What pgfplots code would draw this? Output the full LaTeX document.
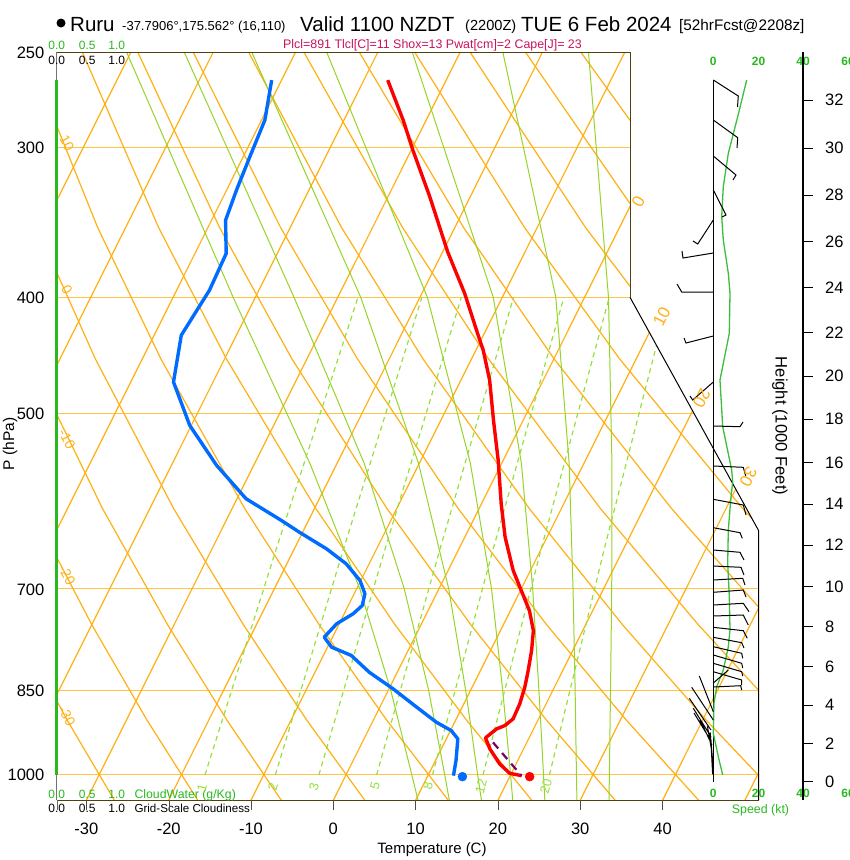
\documentclass[border=0pt]{standalone}
\usepackage{pgfplots}
\pgfplotsset{compat=1.18}
\usepackage{pgfplotstable}
\usepackage{fontspec}
\setmainfont{Liberation Sans}

\definecolor{isoc}{RGB}{255,176,20}
\definecolor{barc}{RGB}{255,196,70}
\definecolor{moistc}{RGB}{150,212,40}
\definecolor{mixc}{RGB}{150,224,60}
\definecolor{framec}{RGB}{80,64,16}
\definecolor{tred}{RGB}{255,0,0}
\definecolor{tdblue}{RGB}{0,108,255}
\definecolor{parcelc}{RGB}{120,0,110}
\definecolor{infoc}{RGB}{200,20,90}
\definecolor{grnc}{RGB}{40,185,30}
\definecolor{spdc}{RGB}{60,190,60}

\newcommand\fs[1]{\fontsize{#1}{#1}\selectfont}

% skew-T: plotted x = T + 31.64 ln(1050/p)
\pgfplotsset{table/skewT/.style={x expr=\thisrow{#1}+31.64*ln(1050/\thisrow{p}),y=p}}

% temperature profile (C, hPa)
\pgfplotstableread{
T p
-37.1 263.7
-32.8 284.7
-29.8 301.6
-24.9 329.9
-19.4 366.6
-14.8 397.1
-10.8 428.8
-9.1 442.8
-6.5 469.0
-3.6 506.5
-0.6 546.9
2.4 594.4
4.9 633.7
7.9 675.5
10.1 702.0
12.3 729.5
14.0 758.0
15.0 787.7
15.8 818.5
16.4 845.2
16.8 872.6
16.9 898.1
16.3 909.7
15.5 915.5
14.7 931.4
15.9 951.3
18.0 979.1
19.8 997.0
21.4 1001.4
}\tempT

% dew point profile
\pgfplotstableread{
T p
-51.2 263.7
-49.6 284.7
-49.2 305.5
-48.8 325.7
-48.3 345.0
-46.2 367.8
-46.0 394.6
-46.7 430.2
-44.8 470.6
-40.2 511.4
-34.5 552.2
-28.9 588.7
-23.3 613.7
-20.4 627.7
-16.1 648.0
-12.8 666.9
-10.1 688.6
-8.7 706.4
-8.3 722.5
-8.9 734.1
-10.3 748.3
-11.0 767.8
-9.5 782.7
-6.6 795.3
-3.4 821.2
0.5 847.8
4.5 878.3
7.8 904.0
10.1 918.5
11.4 933.2
12.5 973.0
13.1 1001.4
}\dewT

% dry adiabats, theta = -30 ... 120 C
\pgfplotstableread{
p dm30 dm20 dm10 d0 d10 d20 d30 d40 d50 d60 d70 d80 d90 d100 d110 d120
1050 -26.59 -16.45 -6.31 3.84 13.98 24.12 34.26 44.40 54.54 64.68 74.82 84.96 95.10 105.24 115.38 125.52
900 -37.21 -27.51 -17.80 -8.10 1.61 11.31 21.01 30.72 40.42 50.12 59.83 69.53 79.23 88.94 98.64 108.34
750 -49.18 -39.97 -30.76 -21.55 -12.34 -3.13 6.08 15.29 24.51 33.72 42.93 52.14 61.35 70.56 79.77 88.98
600 -63.02 -54.38 -45.73 -37.09 -28.45 -19.81 -11.17 -2.52 6.12 14.76 23.40 32.05 40.69 49.33 57.97 66.61
450 -79.60 -71.64 -63.68 -55.72 -47.76 -39.80 -31.84 -23.88 -15.92 -7.96 0.00 7.96 15.92 23.88 31.85 39.80
350 -93.01 -85.60 -78.19 -70.78 -63.37 -55.97 -48.56 -41.15 -33.74 -26.33 -18.92 -11.51 -4.10 3.31 10.71 18.12
250 -109.52 -102.79 -96.06 -89.33 -82.60 -75.88 -69.14 -62.41 -55.68 -48.96 -42.23 -35.50 -28.77 -22.04 -15.31 -8.58
}\dryad

% moist adiabats, theta-w = 8 ... 32 C
\pgfplotstableread{
p m8 m12 m16 m20 m24 m28 m32
1050 10.3 14.1 18.0 21.8 25.7 29.6 33.5
1000 8 12 16 20 24 28 32
850 0.3 4.9 9.4 13.9 18.3 22.7 27.0
700 -9.6 -4.2 1.2 6.4 11.4 16.3 21.0
550 -23.3 -16.7 -10.1 -3.8 2.4 8.2 13.4
400 -42.7 -35.3 -27.2 -19.1 -11.1 -3.5 2.9
250 -70.5 -63.5 -55.3 -46.2 -35.8 -24.8 -14.4
}\moistad

% saturation mixing ratio lines (g/kg)
\pgfplotstableread{
p w1 w2 w3 w5 w8 w12 w20
1000 -17.13 -8.58 -3.29 3.72 10.51 16.64 24.72
650 -22.15 -13.98 -8.93 -2.25 4.21 10.04 17.71
400 -27.54 -19.77 -14.98 -8.64 -2.52 2.99 10.23
}\mixr

\begin{document}
\begin{tikzpicture}
\path[use as bounding box] (0,0) rectangle (850pt,-860pt);

\begin{axis}[
  at={(56.7pt,-800.3pt)}, anchor=south west,
  scale only axis, width=701.8pt, height=748pt,
  xmin=-33.6, xmax=51.66, ymin=250, ymax=1050,
  ymode=log, y dir=reverse,
  hide axis, clip mode=individual,
]
% isobars
\pgfplotsinvokeforeach{300,400,500,700,850,1000}{
  \addplot[barc, line width=1pt] coordinates {(-33.6,#1) (51.66,#1)};
}
% isotherms
\pgfplotsinvokeforeach{-70,-60,...,50}{
  \addplot[isoc, line width=1.2pt] table[row sep=\\, skewT=T] {T p\\ #1 1050\\ #1 250\\};
}
% dry adiabats
\pgfplotsinvokeforeach{dm30,dm20,dm10,d0,d10,d20,d30,d40,d50,d60,d70,d80,d90,d100,d110,d120}{
  \addplot[isoc, line width=1.2pt] table[skewT=#1] {\dryad};
}
% moist adiabats
\pgfplotsinvokeforeach{m8,m12,m16,m20,m24,m28,m32}{
  \addplot[moistc, line width=1pt] table[skewT=#1] {\moistad};
}
% mixing ratio
\pgfplotsinvokeforeach{w1,w2,w3,w5,w8,w12,w20}{
  \addplot[mixc, line width=1.2pt, dash pattern=on 5pt off 4pt] table[skewT=#1] {\mixr};
}
% cut-out corner
\fill[white] (axis cs:36.05,240) -- (axis cs:53,240) -- (axis cs:53,625.6)
  -- (axis cs:51.66,625.6) -- (axis cs:36.05,400) -- cycle;
% frame
\draw[framec, line width=1pt] (axis cs:-33.6,250) -- (axis cs:36.05,250) -- (axis cs:36.05,400);
\draw[black, line width=1pt] (axis cs:36.05,400) -- (axis cs:51.66,625.6) -- (axis cs:51.66,1050);
\draw[framec, line width=1pt] (axis cs:-33.6,1050) -- (axis cs:51.66,1050);
\draw[black!55, line width=0.8pt] (axis cs:-33.6,250) -- (axis cs:-33.6,1050);
\draw[grnc, line width=3pt] (axis cs:-33.6,263.7) -- (axis cs:-33.6,1000);
% profiles
\addplot[tdblue, line width=3.4pt, line join=round] table[skewT=T] {\dewT};
\addplot[tred, line width=3.4pt, line join=round] table[skewT=T] {\tempT};
\addplot[parcelc, line width=2.2pt, dash pattern=on 8pt off 6pt] table[row sep=\\, skewT=T] {T p\\ 15.88 939.4\\ 21.36 1001.4\\};
\addplot[only marks, mark=*, mark size=4.5pt, tdblue] table[row sep=\\, skewT=T] {T p\\ 14.25 1003.3\\};
\addplot[only marks, mark=*, mark size=4.5pt, tred] table[row sep=\\, skewT=T] {T p\\ 22.42 1003.3\\};
\end{axis}

% wind panel: x = speed (kt), y = height above bottom of frame (px)
\begin{axis}[
  at={(668.1pt,-800.3pt)}, anchor=south west,
  scale only axis, width=180.8pt, height=748pt,
  xmin=-20, xmax=60, ymin=0, ymax=748,
  hide axis, clip=false,
]
\addplot[black, line width=0.9pt] coordinates {(0,18.6) (0,720.3)};
\addplot[spdc, line width=1.3pt] coordinates {
(14.78,720.3) (10.80,683.6) (6.64,647) (4.42,613.6) (3.72,583.6) (4.42,560.3)
(6.64,527) (7.39,507) (7.08,467) (2.96,420.3) (4.16,373.6) (8.14,330.3)
(8.58,318.6) (7.70,300.3) (6.64,270.3) (6.37,237) (7.08,203.6) (7.39,170.3)
(6.64,153.6) (4.42,130.3) (1.50,113.6) (0.31,97) (0,67) (2.21,43.6) (4.16,25.3)};
\addplot[black, line width=1pt, unbounded coords=jump] coordinates {
(0,720.3) (11.06,704.3) (10.71,693.3) (nan,nan)
(0,680.3) (10.80,662.6) (10.49,652.3) (nan,nan)
(0,644.3) (10.04,625.3) (8.72,620.3) (nan,nan)
(0,610.3) (5.62,585.3) (3.85,583.3) (nan,nan)
(0,580.3) (-6.90,556.3) (-8.98,559.3) (nan,nan)
(0,547.3) (-13.41,542.3) (-13.85,549.3) (nan,nan)
(0,508.3) (-13.98,508.3) (-16.06,516.3) (nan,nan)
(0,464.3) (-12.08,457.3) (-12.96,462.3) (nan,nan)
(0,418.3) (-9.12,400.3) (-10.31,404.3) (nan,nan)
(0,374.3) (11.81,373.6) (13.14,378.3) (nan,nan)
(0,334.3) (13.27,333) (14.34,324.3) (nan,nan)
(0,301) (13.27,295.3) (14.47,285.3) (nan,nan)
(0,272.6) (11.81,267.6) (12.83,262) (nan,nan)
(0,250.3) (11.81,248) (13.58,240.3) (nan,nan)
(0,234.3) (12.26,233) (13.58,225.3) (nan,nan)
(0,220.3) (13.01,222) (14.03,215.3) (nan,nan)
(0,208) (13.27,210.3) (14.47,203.3) (nan,nan)
(0,195.3) (13.27,197) (15.80,188.6) (nan,nan)
(0,184.3) (13.27,185.3) (15.49,175.3) (nan,nan)
(0,173) (13.27,169.6) (15.04,162) (nan,nan)
(0,163) (12.57,157.6) (13.58,152.3) (nan,nan)
(0,153.6) (12.57,147) (13.01,142) (nan,nan)
(0,145.3) (12.57,137) (13.01,132.3) (nan,nan)
(0,137) (12.57,128.6) (13.01,124.3) (nan,nan)
(0,128.6) (12.57,120.3) (12.57,115.3) (nan,nan)
(0,113.3) (12.12,114.6) (12.57,110.3) (nan,nan)
(0,117.3) (6.64,130.3) (nan,nan)
(0,88.6) (-6.19,124.3) (nan,nan)
(0,80.3) (-9.56,113) (nan,nan)
(-1.02,70.3) (-10.62,102) (nan,nan)
(-1.02,63.6) (-8.85,92) (nan,nan)
(-1.02,59.3) (-8.54,87.3) (nan,nan)
(-0.58,55.3) (-5.88,80.3) (nan,nan)
(-0.3,26) (-0.9,52) (nan,nan)
(-0.2,32) (-1.0,60) (nan,nan)
(-0.3,40) (-1.4,68) (nan,nan)
(-0.6,48) (-2.6,74)};
\end{axis}

\begin{scope}[x=1pt,y=-1pt,every node/.style={inner sep=0pt}]
% title
\fill (61,23) circle (4.5);
\node[anchor=base west] at (70,31) {\fs{20.5}Ruru};
\node[anchor=base west] at (122,30) {\fs{13}-37.7906°,175.562° (16,110)};
\node[anchor=base west] at (300,31) {\fs{20.5}Valid 1100 NZDT};
\node[anchor=base west] at (465,30) {\fs{14.6}(2200Z)};
\node[anchor=base west] at (521,31) {\fs{20.5}TUE 6 Feb 2024};
\node[anchor=base west] at (679,30) {\fs{15.3}[52hrFcst@2208z]};
\node[anchor=base, text=infoc] at (432.5,48) {\fs{12.4}Plcl=891 Tlcl[C]=11 Shox=13 Pwat[cm]=2 Cape[J]= 23};
% cloud scales
\foreach \x/\t in {56.7/0.0,87.3/0.5,116.7/1.0}{
  \node[anchor=base, text=grnc] at (\x,49.3) {\fs{12}\t};
  \node[anchor=base] at (\x,64.3) {\fs{12}\t};
  \node[anchor=base, text=grnc] at (\x,798) {\fs{12}\t};
  \node[anchor=base] at (\x,812.7) {\fs{12}\t};
}
\node[anchor=base west, text=grnc] at (134.3,798) {\fs{12.3}CloudWater (g/Kg)};
\node[anchor=base west] at (134.3,812.7) {\fs{11.6}Grid-Scale Cloudiness};
% pressure labels
\foreach \y/\t in {53.3/250,148/300,298/400,414/500,590/700,691/850,775.3/1000}{
  \node[anchor=east] at (44.5,\y) {\fs{16.5}\t};
}
\node[rotate=90] at (10,444) {\fs{15.5}P (hPa)};
% temperature ticks
\draw[black!60] (56.7,800.3) -- ++(0,10);
\foreach \t in {-30,-20,...,40}{
  \draw[black!70] ({333.3+8.23*\t},800.3) -- ++(0,10);
  \node[anchor=base] at ({333.3+8.23*\t},834) {\fs{16.5}\t};
}
\node[anchor=base] at (432,853) {\fs{15}Temperature (C)};
% dry adiabat labels
\foreach \y/\t in {143/10,290/0,439/-10,575/-20,716/-30}{
  \node[rotate=-62, text=isoc] at (67,\y) {\fs{14}\t};
}
% isotherm labels
\node[rotate=63, text=isoc] at (638.3,201.7) {\fs{17}0};
\node[rotate=63, text=isoc] at (661.7,316.7) {\fs{17}10};
\node[rotate=-117, text=isoc] at (701.7,398.3) {\fs{17}20};
\node[rotate=-117, text=isoc] at (748.3,476.7) {\fs{17}30};
% mixing ratio labels
\foreach \x/\y/\t in {202/788/1,273/787/2,314/787/3,375/786/5,428/786/8,481/786/12,546/786/20}{
  \node[rotate=75, text=mixc] at (\x,\y) {\fs{13}\t};
}
% speed scale
\foreach \x/\t in {713.3/0,758.5/20,803/40,848/60}{
  \node[anchor=base, text=grnc] at (\x,65) {\fs{12}\bfseries\t};
  \node[anchor=base, text=grnc] at (\x,797) {\fs{12}\bfseries\t};
}
\node[anchor=base, text=grnc] at (760.5,813) {\fs{12.4}Speed (kt)};
% height axis
\draw[black, line width=1.8pt] (803,52.3) -- (803,800.3);
\foreach \y/\t in {781.5/0,743.3/2,705/4,666.7/6,626.5/8,586.7/10,545/12,504/14,462.7/16,419.3/18,376/20,332.7/22,287.3/24,241.7/26,195/28,148.3/30,100/32}{
  \draw[black, line width=0.8pt] (803,\y) -- (813,\y);
  \node[anchor=west] at (825,\y) {\fs{16.5}\t};
}
\node[rotate=-90] at (780,426) {\fs{16.6}Height (1000 Feet)};
\end{scope}
\end{tikzpicture}
\end{document}
